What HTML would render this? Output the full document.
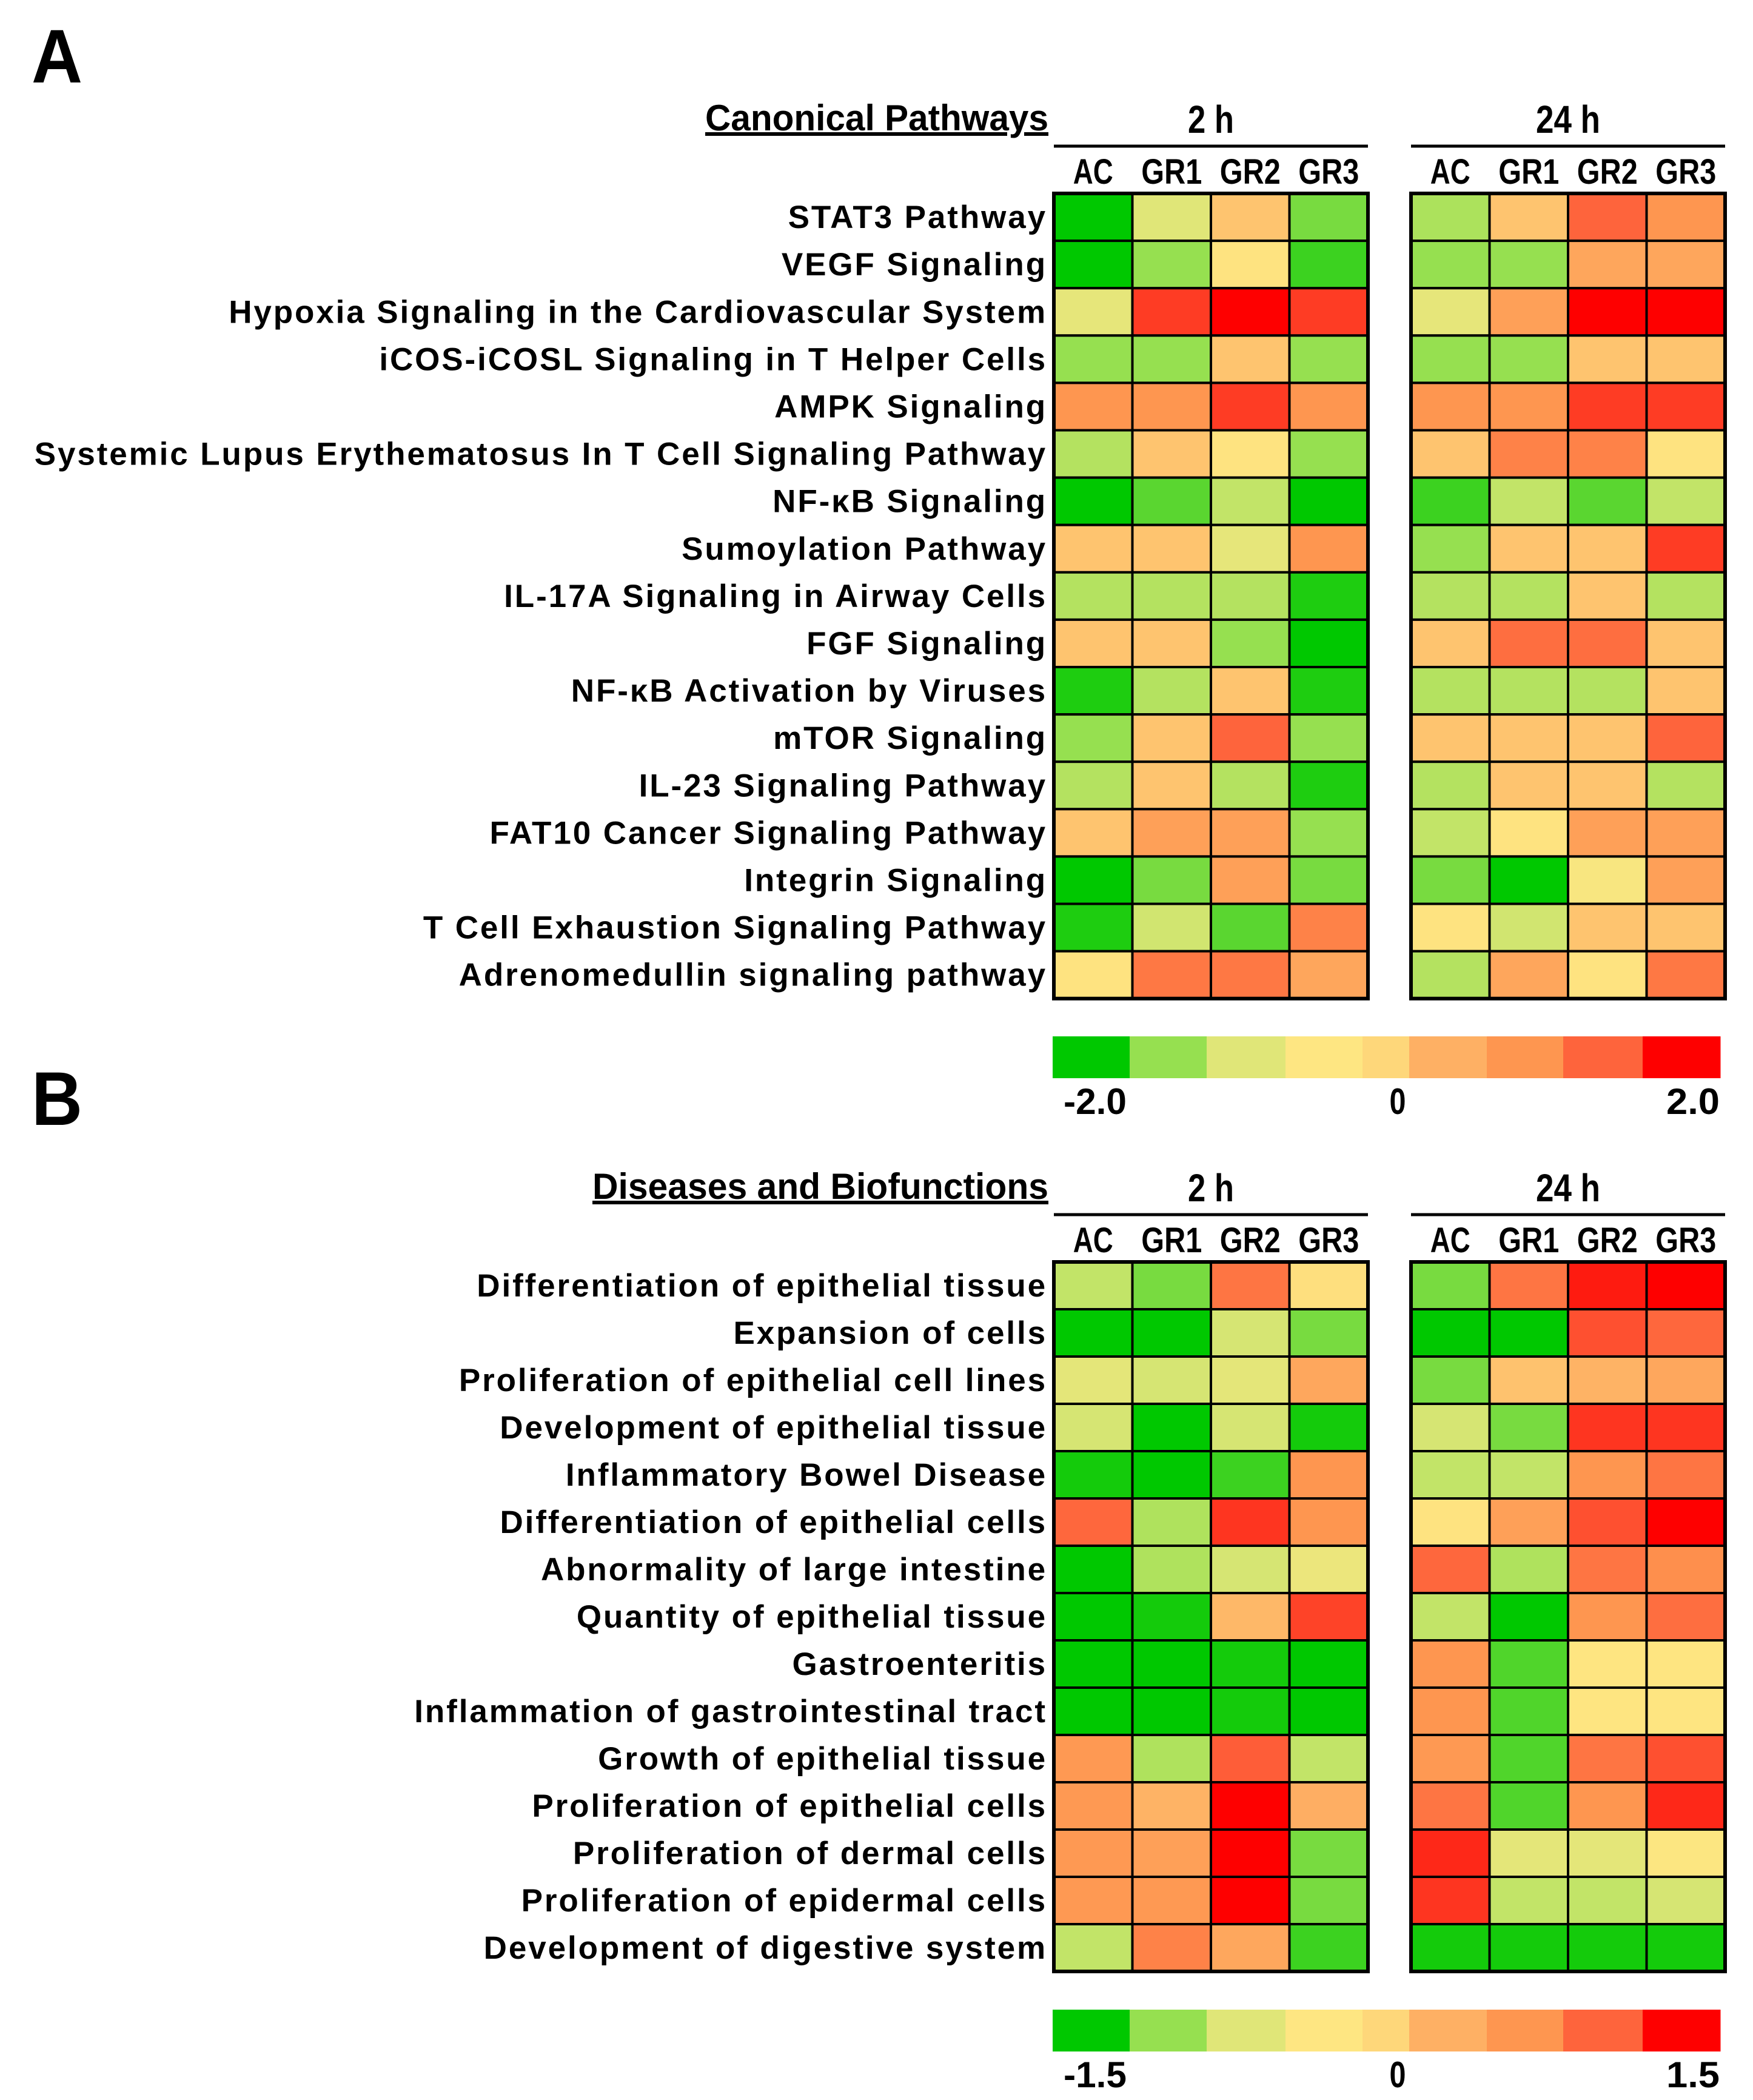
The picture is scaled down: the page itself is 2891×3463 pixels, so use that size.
<!DOCTYPE html>
<html><head><meta charset="utf-8"><style>
html,body{margin:0;padding:0;background:#fff;}
svg{display:block;}
text{font-family:"Liberation Sans",Arial,sans-serif;font-weight:bold;fill:#000;}
</style></head><body>
<svg id="fig" width="2891" height="3463" viewBox="0 0 2891 3463" xmlns="http://www.w3.org/2000/svg"></svg>
<script>
const groups = ["AC","GR1","GR2","GR3"];
const times = ["2 h","24 h"];
const rowsA = ["STAT3 Pathway","VEGF Signaling","Hypoxia Signaling in the Cardiovascular System","iCOS-iCOSL Signaling in T Helper Cells","AMPK Signaling","Systemic Lupus Erythematosus In T Cell Signaling Pathway","NF-κB Signaling","Sumoylation Pathway","IL-17A Signaling in Airway Cells","FGF Signaling","NF-κB Activation by Viruses","mTOR Signaling","IL-23 Signaling Pathway","FAT10 Cancer Signaling Pathway","Integrin Signaling","T Cell Exhaustion Signaling Pathway","Adrenomedullin signaling pathway"];
const valuesA = [
[-2,-1,0.25,-1.6, -1.35,0.25,1.5,1.0],
[-2,-1.5,-0.4,-1.8, -1.5,-1.5,0.7,0.7],
[-0.9,1.7,2,1.7, -0.9,0.8,2,2],
[-1.5,-1.5,0.25,-1.5, -1.5,-1.5,0.25,0.25],
[1.0,1.0,1.7,1.0, 1.0,1.0,1.7,1.7],
[-1.3,0.25,-0.4,-1.5, 0.25,1.2,1.2,-0.4],
[-2,-1.7,-1.2,-2, -1.8,-1.2,-1.7,-1.2],
[0.25,0.25,-0.9,1.0, -1.5,0.25,0.25,1.7],
[-1.3,-1.3,-1.3,-1.9, -1.3,-1.3,0.25,-1.3],
[0.25,0.25,-1.5,-2, 0.25,1.4,1.4,0.25],
[-1.9,-1.3,0.25,-1.9, -1.3,-1.3,-1.3,0.25],
[-1.5,0.25,1.5,-1.5, 0.25,0.25,0.25,1.5],
[-1.3,0.25,-1.3,-1.9, -1.3,0.25,0.25,-1.3],
[0.25,0.8,0.8,-1.5, -1.2,-0.4,0.8,0.8],
[-2,-1.6,0.8,-1.6, -1.6,-2,-0.6,0.8],
[-1.9,-1.1,-1.7,1.2, -0.4,-1.1,0.25,0.25],
[-0.4,1.3,1.3,0.7, -1.3,0.7,-0.4,1.3]];
const rowsB = ["Differentiation of epithelial tissue","Expansion of cells","Proliferation of epithelial cell lines","Development of epithelial tissue","Inflammatory Bowel Disease","Differentiation of epithelial cells","Abnormality of large intestine","Quantity of epithelial tissue","Gastroenteritis","Inflammation of gastrointestinal tract","Growth of epithelial tissue","Proliferation of epithelial cells","Proliferation of dermal cells","Proliferation of epidermal cells","Development of digestive system"];
const valuesB = [
[-0.9,-1.2,1.0,-0.2, -1.2,1.0,1.4,1.5],
[-1.5,-1.5,-0.8,-1.2, -1.5,-1.5,1.2,1.1],
[-0.7,-0.8,-0.7,0.5, -1.2,0.2,0.35,0.5],
[-0.8,-1.5,-0.8,-1.45, -0.8,-1.2,1.3,1.3],
[-1.45,-1.5,-1.35,0.75, -0.9,-0.9,0.75,1.0],
[1.1,-1.0,1.3,0.75, -0.3,0.6,1.2,1.5],
[-1.5,-1.0,-0.8,-0.6, 1.1,-1.0,1.0,0.8],
[-1.5,-1.45,0.3,1.25, -0.9,-1.5,0.75,1.05],
[-1.5,-1.5,-1.45,-1.5, 0.75,-1.3,-0.35,-0.35],
[-1.5,-1.5,-1.45,-1.5, 0.75,-1.3,-0.35,-0.35],
[0.7,-1.0,1.15,-0.9, 0.7,-1.3,1.0,1.2],
[0.7,0.35,1.5,0.4, 1.0,-1.3,0.75,1.35],
[0.7,0.6,1.5,-1.2, 1.35,-0.7,-0.7,-0.4],
[0.7,0.7,1.5,-1.2, 1.3,-0.9,-0.9,-0.8],
[-0.9,0.9,0.5,-1.35, -1.45,-1.45,-1.45,-1.45]];
const rangeA = [-2, 2];
const rangeB = [-1.5, 1.5];
const tickLabelsA = ["-2.0","0","2.0"];
const tickLabelsB = ["-1.5","0","1.5"];

const stops = [[0,"#00c800"],[0.125,"#96e050"],[0.25,"#e0e678"],[0.375,"#fee682"],[0.5,"#fed77a"],[0.625,"#feb064"],[0.75,"#fe9650"],[0.875,"#fe643c"],[1,"#fe0000"]];
function hex(c){return [1,3,5].map(i=>parseInt(c.substr(i,2),16));}
function color(v,rng){
  let t=(v-rng[0])/(rng[1]-rng[0]); t=Math.max(0,Math.min(1,t));
  for(let i=1;i<stops.length;i++){ if(t<=stops[i][0]){ const a=stops[i-1],b=stops[i]; const f=(t-a[0])/(b[0]-a[0]); const ca=hex(a[1]),cb=hex(b[1]); return "rgb("+ca.map((x,k)=>Math.round(x+(cb[k]-x)*f)).join(",")+")"; } }
  return stops[stops.length-1][1];
}
const NS="http://www.w3.org/2000/svg";
const svg=document.getElementById('fig');
function el(tag,attrs,parent,txt){const e=document.createElementNS(NS,tag);for(const k in attrs)e.setAttribute(k,attrs[k]);if(txt!==undefined)e.textContent=txt;(parent||svg).appendChild(e);return e;}

const panelX=[1738,2327], cellW=129.5;
function panel(letter,letterY,title,titleLen,top,rows,values,rng,ticks,prefix,barY){
  const g=el('g',{});  
  const L=el('text',{x:52,y:letterY,'font-size':125,textLength:84,lengthAdjust:'spacingAndGlyphs'},g,letter);
   
  const T=el('text',{x:1729,y:top-104,'font-size':60,'text-anchor':'end','text-decoration':'underline',textLength:titleLen,lengthAdjust:'spacingAndGlyphs'},g,title);
   
  const rh=(prefix==='pathways')?78.1:78.0;
  times.forEach((tm,ti)=>{
    const x0=panelX[ti];
    const h=el('text',{x:x0+cellW*2,y:top-100,'font-size':64,'text-anchor':'middle',textLength:ti?106:76,lengthAdjust:'spacingAndGlyphs'},g,tm);
     
    const ln=el('line',{x1:x0,x2:x0+cellW*4,y1:top-78,y2:top-78,stroke:'#000','stroke-width':5},g);
     
    groups.forEach((gr,gi)=>{
      const c=el('text',{x:x0+cellW*gi+cellW/2,y:top-16,'font-size':58,'text-anchor':'middle',textLength:gr.length===2?66:100,lengthAdjust:'spacingAndGlyphs'},g,gr);
       
    });
    rows.forEach((r,ri)=>{
      groups.forEach((gr,gi)=>{
        const v=values[ri][ti*4+gi];
        const rc=el('rect',{x:x0+cellW*gi,y:top+rh*ri,width:cellW,height:rh,fill:color(v,rng),stroke:'#000','stroke-width':4},g);
         
      });
    });
    const ob=el('rect',{x:x0,y:top,width:cellW*4,height:rh*rows.length,fill:'none',stroke:'#000','stroke-width':6},g);
     
  });
  rows.forEach((r,ri)=>{
    const t=el('text',{x:1727,y:top+rh*ri+rh/2+18,'font-size':53,'text-anchor':'end','letter-spacing':2.9},g,r);
     
  });
  const segW=[127,127,130,127,77,128,126,131,128];
  let x=1736;
  segW.forEach((w,i)=>{
    const s=el('rect',{x:x,y:barY,width:w+0.5,height:69,fill:stops[i][1]},g);
     
    x+=w;
  });
  const tx=[1806,2305,2792];
  const tl=[104,27,88];
  ticks.forEach((tk,i)=>{
    const t=el('text',{x:tx[i],y:barY+128,'font-size':60,'text-anchor':'middle',textLength:tl[i],lengthAdjust:'spacingAndGlyphs'},g,tk);
     
  });
}
panel('A',136,'Canonical Pathways',566,319,rowsA,valuesA,rangeA,tickLabelsA,'pathways',1709);
panel('B',1855,'Diseases and Biofunctions',752,2081,rowsB,valuesB,rangeB,tickLabelsB,'diseases',3314);
</script>
</body></html>
